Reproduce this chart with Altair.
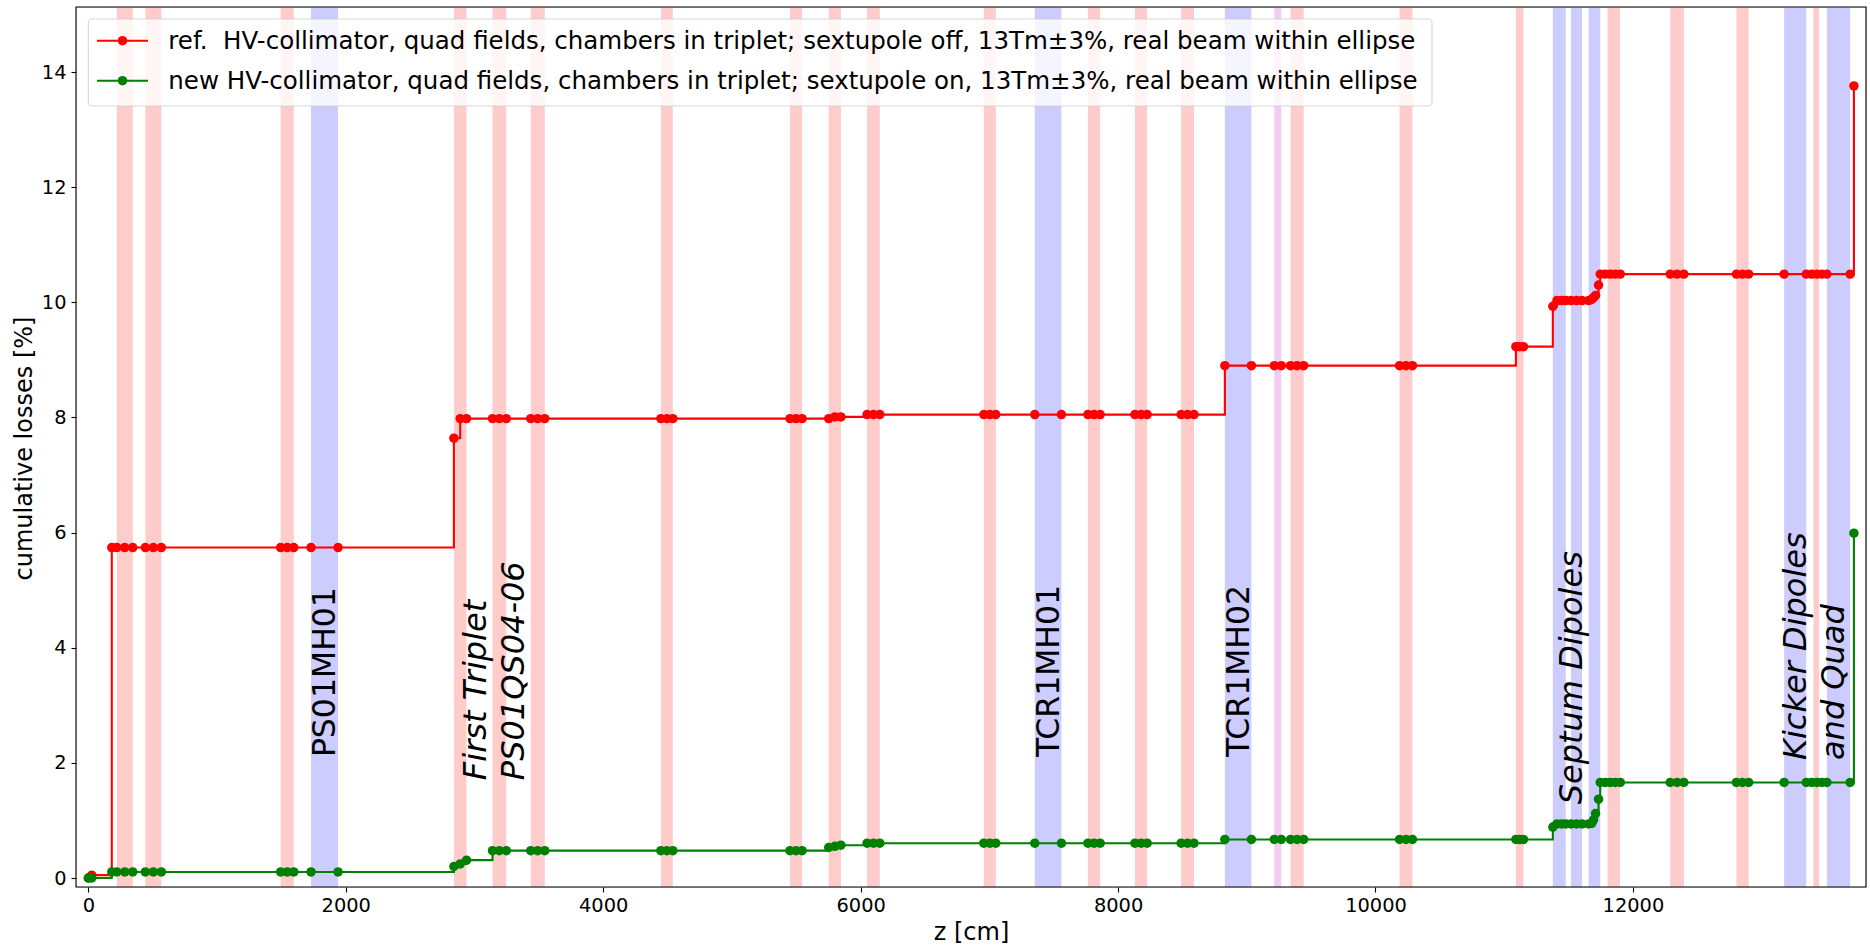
import altair as alt
import pandas as pd

# ---------------- data ----------------
z_cm = [0, 26, 182, 221, 283, 345, 443, 505, 567, 1494, 1545, 1596, 1730, 1940,
        2840, 2889, 2938, 3140, 3193, 3247, 3437, 3491, 3546,
        4448, 4495, 4541, 5451, 5498, 5545, 5752, 5800, 5847,
        6050, 6100, 6149, 6957, 7004, 7050, 7353, 7560, 7766, 7814, 7861,
        8131, 8179, 8226, 8490, 8540, 8590,
        8830, 9036, 9214, 9268, 9340, 9391, 9442, 10187, 10237, 10287,
        11091, 11120, 11150,
        11378, 11410, 11445, 11478, 11519, 11562, 11605, 11656, 11680, 11694, 11710, 11733,
        11746, 11785, 11824, 11863, 11902, 12290, 12343, 12396, 12804, 12851, 12899,
        13175, 13347, 13390, 13429, 13468, 13507, 13688, 13717]

ref_loss = [0.0, 0.05,
            5.74, 5.74, 5.74, 5.74, 5.74, 5.74, 5.74, 5.74, 5.74, 5.74, 5.74, 5.74,
            7.64, 7.98, 7.98, 7.98, 7.98, 7.98, 7.98, 7.98, 7.98,
            7.98, 7.98, 7.98, 7.98, 7.98, 7.98, 7.98, 8.01, 8.01,
            8.05, 8.05, 8.05, 8.05, 8.05, 8.05, 8.05, 8.05, 8.05, 8.05, 8.05,
            8.05, 8.05, 8.05, 8.05, 8.05, 8.05,
            8.90, 8.90, 8.90, 8.90, 8.90, 8.90, 8.90, 8.90, 8.90, 8.90,
            9.23, 9.23, 9.23,
            9.93, 10.03, 10.03, 10.03, 10.03, 10.03, 10.03, 10.03, 10.05, 10.08, 10.12, 10.30,
            10.49, 10.49, 10.49, 10.49, 10.49, 10.49, 10.49, 10.49, 10.49, 10.49, 10.49,
            10.49, 10.49, 10.49, 10.49, 10.49, 10.49, 10.49, 13.76]

new_loss = [0.0, 0.0,
            0.105, 0.105, 0.105, 0.105, 0.105, 0.105, 0.105, 0.105, 0.105, 0.105, 0.105, 0.105,
            0.20, 0.245, 0.31, 0.475, 0.475, 0.475, 0.475, 0.475, 0.475,
            0.475, 0.475, 0.475, 0.475, 0.475, 0.475, 0.53, 0.55, 0.57,
            0.605, 0.605, 0.605, 0.605, 0.605, 0.605, 0.605, 0.605, 0.605, 0.605, 0.605,
            0.605, 0.605, 0.605, 0.605, 0.605, 0.605,
            0.67, 0.67, 0.67, 0.67, 0.67, 0.67, 0.67, 0.67, 0.67, 0.67,
            0.67, 0.67, 0.67,
            0.885, 0.94, 0.94, 0.94, 0.94, 0.94, 0.94, 0.94, 0.95, 1.01, 1.12, 1.37,
            1.66, 1.66, 1.66, 1.66, 1.66, 1.66, 1.66, 1.66, 1.66, 1.66, 1.66,
            1.66, 1.66, 1.66, 1.66, 1.66, 1.66, 1.66, 5.99]

band_start = [221, 443, 1494, 1730, 2840, 3140, 3437, 4448, 5451, 5752, 6050, 6957, 7353,
              7766, 8131, 8490, 8830, 9214, 9340, 10187, 11091, 11378, 11519, 11656,
              11803, 12290, 12804, 13175, 13403, 13507]
band_end = [345, 567, 1596, 1940, 2938, 3247, 3546, 4541, 5545, 5847, 6149, 7050, 7560,
            7861, 8226, 8590, 9036, 9268, 9442, 10287, 11150, 11478, 11605, 11746,
            11900, 12396, 12899, 13347, 13447, 13688]
band_kind = ["quad", "quad", "quad", "dipole", "quad", "quad", "quad", "quad", "quad", "quad",
             "quad", "quad", "dipole", "quad", "quad", "quad", "dipole", "other", "quad", "quad",
             "quad", "dipole", "dipole", "dipole", "quad", "quad", "quad", "dipole", "quad", "dipole"]
kind_names = ["quad", "dipole", "other"]
kind_colors = ["#ffcccc", "#ccccff", "#f2ccf2"]

series_keys = ["ref", "new"]
series_colors = ["#ff0000", "#008000"]
legend_labels = [
    "ref.\u00a0 HV-collimator, quad fields, chambers in triplet; sextupole off, 13Tm\u00b13%, real beam within ellipse",
    "new HV-collimator, quad fields, chambers in triplet; sextupole on, 13Tm\u00b13%, real beam within ellipse",
]

x_ticks = [0, 2000, 4000, 6000, 8000, 10000, 12000]
y_ticks = [0, 2, 4, 6, 8, 10, 12, 14]

ann_up_text = ["PS01MH01", "TCR1MH01", "TCR1MH02"]
ann_up_z = [1850, 7470, 8950]
ann_up_y = [2.1, 2.1, 2.1]
ann_it_text = ["First Triplet", "PS01QS04-06", "Septum Dipoles", "Kicker Dipoles", "and Quad"]
ann_it_z = [3012, 3308, 11528, 13269, 13564]
ann_it_y = [1.7, 1.7, 1.28, 2.05, 2.05]

# ---------------- tables ----------------
df = pd.DataFrame({
    "z": z_cm * 2,
    "loss": ref_loss + new_loss,
    "series": ["ref"] * len(z_cm) + ["new"] * len(z_cm),
})
bands_df = pd.DataFrame({"start": band_start, "end": band_end, "kind": band_kind})
ann_up_df = pd.DataFrame({"tz": ann_up_z, "ty": ann_up_y, "label": ann_up_text})
ann_it_df = pd.DataFrame({"tz": ann_it_z, "ty": ann_it_y, "label": ann_it_text})
legend_df = pd.DataFrame({"series": series_keys, "label": legend_labels})
one_df = pd.DataFrame({"k": [0]})

FONT = "DejaVu Sans"
W, H = 1790, 880
MARKER = 90

xscale = alt.Scale(domain=[-96, 13811], nice=False, zero=False)
yscale = alt.Scale(domain=[-0.156, 15.13], nice=False, zero=False)

common_axis = dict(
    grid=False, domain=False, tickSize=5, tickWidth=1.1, tickColor="black",
    labelFont=FONT, labelFontSize=19.4, labelColor="black",
    titleFont=FONT, titleFontSize=24, titleFontWeight="normal", titleColor="black",
    labelFlush=False, labelOverlap=False, zindex=1,
)
xaxis = alt.Axis(values=x_ticks, format="d", labelPadding=4,
                 titleY=45, titleBaseline="middle", **common_axis)
yaxis = alt.Axis(values=y_ticks, format="d", labelPadding=5,
                 titleX=-52, titleY=441, titleAngle=270, titleBaseline="middle",
                 titleAlign="center", **common_axis)


def X(field):
    return alt.X(f"{field}:Q", scale=xscale, axis=xaxis, title="z [cm]")


def Y(field):
    return alt.Y(f"{field}:Q", scale=yscale, axis=yaxis, title="cumulative losses [%]")


layers = []

# element bands
layers.append(
    alt.Chart(bands_df).mark_rect(opacity=1).encode(
        x=X("start"), x2="end",
        color=alt.Color("kind:N", scale=alt.Scale(domain=kind_names, range=kind_colors), legend=None),
    )
)

# series: line then markers, red first then green
for key, col in zip(series_keys, series_colors):
    base = alt.Chart(df).transform_filter(alt.datum.series == key)
    layers.append(base.mark_line(interpolate="step-after", color=col, strokeWidth=2.1, clip=True)
                  .encode(x=X("z"), y=Y("loss")))
    layers.append(base.mark_point(filled=True, color=col, size=MARKER, opacity=1, clip=True)
                  .encode(x=X("z"), y=Y("loss")))

# annotations
layers.append(
    alt.Chart(ann_up_df).mark_text(angle=270, align="left", baseline="middle", font=FONT,
                                   fontSize=31.5, color="black")
    .encode(x=X("tz"), y=Y("ty"), text="label:N")
)
layers.append(
    alt.Chart(ann_it_df).mark_text(angle=270, align="left", baseline="middle", font=FONT,
                                   fontSize=32, fontStyle="italic", color="black")
    .encode(x=X("tz"), y=Y("ty"), text="label:N")
)

# legend (drawn like matplotlib's upper-left legend box)
layers.append(
    alt.Chart(one_df).mark_rect(fill="white", fillOpacity=0.8, stroke="#cccccc", strokeOpacity=0.8,
                                strokeWidth=1.1, cornerRadius=4)
    .encode(x=alt.value(12.3), x2=alt.value(1356), y=alt.value(12), y2=alt.value(99))
)
row_y = [33.7, 73.7]
for key, col, ry in zip(series_keys, series_colors, row_y):
    leg = alt.Chart(legend_df).transform_filter(alt.datum.series == key)
    layers.append(leg.mark_rule(color=col, strokeWidth=2.1)
                  .encode(x=alt.value(21), x2=alt.value(72), y=alt.value(ry)))
    layers.append(leg.mark_point(filled=True, color=col, size=MARKER, opacity=1)
                  .encode(x=alt.value(46.5), y=alt.value(ry)))
    layers.append(leg.mark_text(align="left", baseline="middle", font=FONT, fontSize=24.5, color="black")
                  .encode(x=alt.value(92.3), y=alt.value(ry + 1.5), text="label:N"))

# axes frame on top
layers.append(
    alt.Chart(one_df).mark_rect(fillOpacity=0, stroke="black", strokeWidth=1.1)
    .encode(x=alt.value(0), x2=alt.value(W), y=alt.value(0), y2=alt.value(H))
)

chart = alt.layer(*layers).properties(
    width=W, height=H,
    padding={"left": 76, "top": 7, "right": 4, "bottom": 64},
    autosize=alt.AutoSizeParams(type="none"),
).configure_view(stroke="transparent").configure(font=FONT, background="white")

chart.save("out.html", embed_options={"renderer": "svg", "actions": False})
